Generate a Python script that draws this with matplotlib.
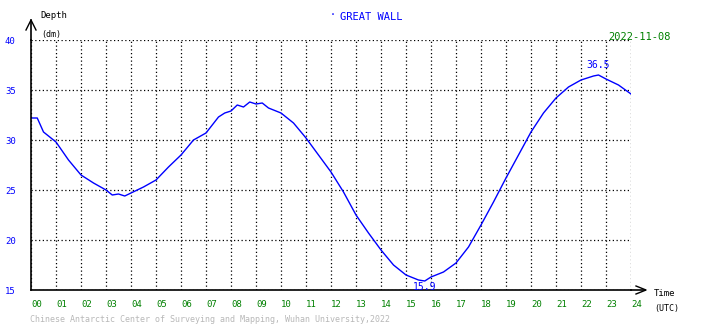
import matplotlib
matplotlib.use("Agg")
import matplotlib.pyplot as plt

hours = [0, 0.25, 0.5, 1, 1.5, 2, 2.5, 3, 3.25, 3.5, 3.75, 4, 4.5, 5, 5.5, 6, 6.5, 7, 7.5, 7.75,
         8, 8.25, 8.5, 8.75, 9, 9.25, 9.5, 10, 10.5, 11, 11.5, 12, 12.5, 13, 13.5, 14, 14.5, 15,
         15.5, 15.75, 16, 16.5, 17, 17.5, 18, 18.5, 19, 19.5, 20, 20.5, 21, 21.5, 22, 22.5, 22.7,
         23, 23.5, 24]
depth = [32.2, 32.2, 30.8, 29.8, 28.0, 26.5, 25.7, 25.0, 24.5, 24.6, 24.4, 24.7, 25.3, 26.0, 27.3,
         28.5, 30.0, 30.7, 32.3, 32.7, 32.9, 33.5, 33.3, 33.8, 33.6, 33.7, 33.2, 32.7, 31.7, 30.2,
         28.5, 26.8, 24.8, 22.5, 20.7, 19.0, 17.5, 16.5, 16.0, 15.9, 16.3, 16.8, 17.7, 19.3, 21.5,
         23.8, 26.2, 28.5, 30.8, 32.7, 34.2, 35.3, 36.0, 36.4, 36.5, 36.1, 35.5, 34.6]
x_ticks = list(range(0, 25))
x_labels = ["%02d" % h for h in x_ticks]
y_ticks = [15, 20, 25, 30, 35, 40]
y_labels = [str(v) for v in y_ticks]
title = "GREAT WALL"
date = "2022-11-08"
max_label = ("36.5", 22.7, 36.5)
min_label = ("15.9", 15.75, 15.9)
footer = "Chinese Antarctic Center of Surveying and Mapping, Wuhan University,2022"

W, H = 710, 328
fig = plt.figure(figsize=(W / 100, H / 100), dpi=100)
fig.patch.set_facecolor("white")
left, right, top, bottom = 31, 631, 40, 290
ax = fig.add_axes([left / W, 1 - bottom / H, (right - left) / W, (bottom - top) / H])
ax.set_xlim(0, 24)
ax.set_ylim(15, 40)
font = "DejaVu Sans Mono"

ax.plot(hours, depth, color="#0000ff", lw=1.0)
ax.set_xticks(x_ticks)
ax.set_yticks(y_ticks)
ax.set_xticklabels(x_labels, color="#008000", fontsize=6.5, family=font, ha="left")
ax.set_yticklabels(y_labels, color="#0000ff", fontsize=6.5, family=font)
ax.tick_params(axis="x", length=0, pad=7)
ax.tick_params(axis="y", length=0, pad=11)
ax.grid(True, color="black", linestyle=(0, (1, 2)), lw=0.9)
for s in ["top", "right"]:
    ax.spines[s].set_visible(False)
ax.spines["left"].set_linewidth(1.2)
ax.spines["bottom"].set_linewidth(1.2)

ax.text(max_label[1], max_label[2] + 0.5, max_label[0], color="#0000ff", fontsize=7,
        family=font, ha="center", va="bottom")
ax.text(min_label[1], min_label[2] - 0.1, min_label[0], color="#0000ff", fontsize=7,
        family=font, ha="center", va="top")

# axis arrows
fig.add_artist(plt.Line2D([left / W, left / W], [1 - top / H, 1 - 20 / H], color="black", lw=1.2))
fig.add_artist(plt.Line2D([right / W, 645 / W], [1 - bottom / H, 1 - bottom / H], color="black", lw=1.2))
fig.add_artist(plt.Line2D([26 / W, 31 / W, 36 / W], [1 - 30 / H, 1 - 20 / H, 1 - 30 / H], color="black", lw=1))
fig.add_artist(plt.Line2D([636 / W, 646 / W, 636 / W], [1 - 286 / H, 1 - 290 / H, 1 - 294 / H], color="black", lw=1))

fig.text(40 / W, 1 - 16 / H, "Depth", fontsize=6.5, family=font, va="center")
fig.text(41 / W, 1 - 34 / H, "(dm)", fontsize=6, family=font, va="center")
fig.text(654 / W, 1 - 294 / H, "Time", fontsize=6.5, family=font, va="center")
fig.text(654 / W, 1 - 309 / H, "(UTC)", fontsize=6, family=font, va="center")
fig.text(330 / W, 1 - 15 / H, "\u00b7", fontsize=7, family=font, color="#0000ff", va="center")
fig.text(340 / W, 1 - 17 / H, title, fontsize=7.5, family=font, color="#0000ff", va="center")
fig.text(671 / W, 1 - 37 / H, date, fontsize=7.5, family=font, color="#008000", va="center", ha="right")
fig.text(30 / W, 1 - 320 / H, footer, fontsize=6, family=font, color="#b8b8b8", va="center")

fig.savefig("out.png", dpi=100, facecolor="white")
